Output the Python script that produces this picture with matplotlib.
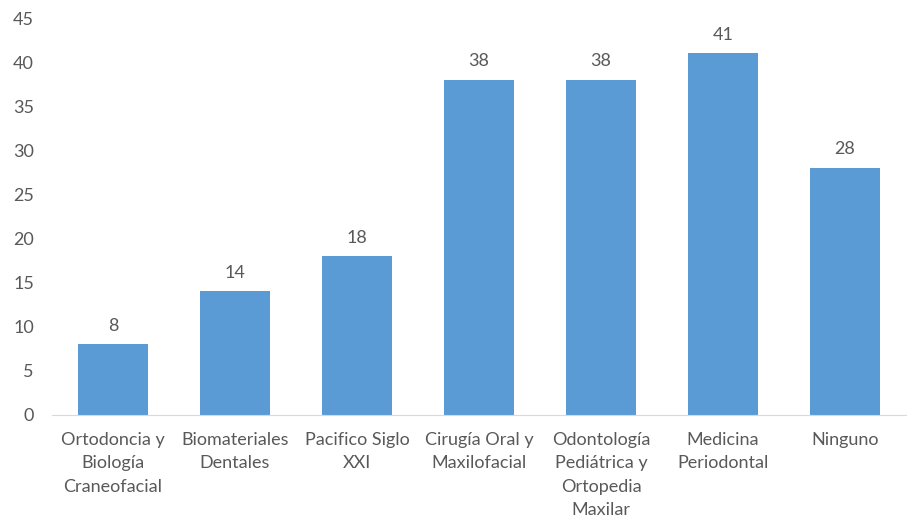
import matplotlib
matplotlib.use('Agg')
import matplotlib.pyplot as plt

categories = ['Ortodoncia y\nBiología\nCraneofacial', 'Biomateriales\nDentales',
              'Pacifico Siglo\nXXI', 'Cirugía Oral y\nMaxilofacial',
              'Odontología\nPediátrica y\nOrtopedia\nMaxilar', 'Medicina\nPeriodontal', 'Ninguno']
values = [8, 14, 18, 38, 38, 41, 28]
yticks = [0, 5, 10, 15, 20, 25, 30, 35, 40, 45]

textcolor = '#595959'
plt.rcParams['font.family'] = ['Lato', 'DejaVu Sans']

fig = plt.figure(figsize=(9.18, 5.22), dpi=100, facecolor='white')
ax = fig.add_axes([0.0566, 0.205, 0.9304, 0.7605])

x = range(len(values))
bars = ax.bar(x, values, width=0.575, color='#5B9BD5')
for xi, v in zip(x, values):
    ax.text(xi, v + 1.2, str(v), ha='center', va='bottom', fontsize=13, color=textcolor)

ax.set_xlim(-0.5, len(values) - 0.5)
ax.set_ylim(0, 45)
ax.set_yticks(yticks)
ax.set_xticks(list(x))
ax.set_xticklabels(categories, fontsize=13, color=textcolor, linespacing=1.58)
ax.tick_params(axis='y', labelsize=13, labelcolor=textcolor, length=0, pad=13)
ax.tick_params(axis='x', length=0, pad=12)

for side in ['top', 'right', 'left']:
    ax.spines[side].set_visible(False)
ax.spines['bottom'].set_color('#D9D9D9')

fig.savefig('out.png', dpi=100)
